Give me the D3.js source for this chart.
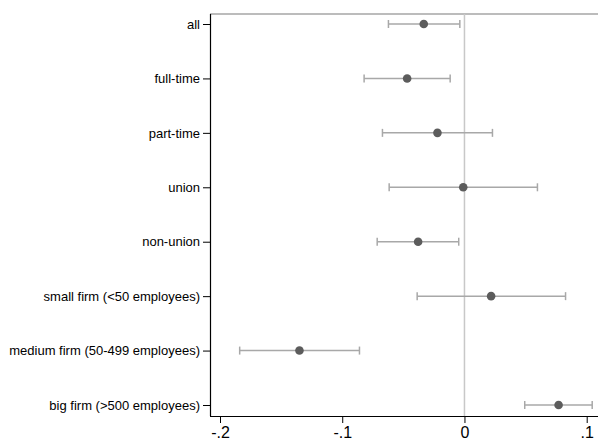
<!DOCTYPE html>
<html>
<head>
<meta charset="utf-8">
<script src="https://cdn.jsdelivr.net/npm/d3@7"></script>
<style>
  html, body { margin: 0; padding: 0; background: #fff; }
  svg { display: block; font-family: "Liberation Sans", Arial, sans-serif; }
</style>
</head>
<body>
<svg id="chart" width="598" height="443"></svg>
<script>
// Groups, point estimates and 95% confidence bounds
const groups = [
  "all",
  "full-time",
  "part-time",
  "union",
  "non-union",
  "small firm (<50 employees)",
  "medium firm (50-499 employees)",
  "big firm (>500 employees)"
];
const estimates = [-0.0333, -0.0469, -0.0221, -0.0010, -0.0379, 0.0218, -0.1350, 0.0770];
const lowerCI   = [-0.0622, -0.0821, -0.0671, -0.0616, -0.0714, -0.0387, -0.1839, 0.0493];
const upperCI   = [-0.0038, -0.0117, 0.0229, 0.0597, -0.0047, 0.0827, -0.0859, 0.1045];
const xTicks = [-0.2, -0.1, 0, 0.1];
const xTickLabels = ["-.2", "-.1", "0", ".1"];

(function () {
  const rows = groups.map((g, i) => ({ g, est: estimates[i], lo: lowerCI[i], hi: upperCI[i] }));

  const svg = d3.select("#chart");
  const plotLeft = 210, plotRight = 598, plotTop = 14, plotBottom = 416;

  const x = d3.scaleLinear().domain([-0.2, 0.1]).range([220, 586.7]);
  const y = d3.scalePoint().domain(groups).range([24, 405]);

  // frame: top border in gray
  svg.append("line")
    .attr("x1", plotLeft).attr("x2", plotRight)
    .attr("y1", plotTop).attr("y2", plotTop)
    .attr("stroke", "#7a7a7a").attr("stroke-width", 1.2);

  // reference line at zero
  svg.append("line")
    .attr("x1", x(0)).attr("x2", x(0))
    .attr("y1", plotTop).attr("y2", plotBottom)
    .attr("stroke", "#c8c8c8").attr("stroke-width", 1.5);

  // x axis
  const xAxis = svg.append("g")
    .attr("transform", `translate(0,${plotBottom})`)
    .call(d3.axisBottom(x).tickValues(xTicks)
      .tickFormat((d, i) => xTickLabels[i]).tickSize(7).tickPadding(4));
  xAxis.select(".domain").attr("d", `M${plotLeft},0.5H${plotRight}`).attr("stroke", "#000").attr("stroke-width", 1.2);
  xAxis.selectAll(".tick line").attr("stroke", "#000");
  xAxis.selectAll("text").attr("font-size", 16).attr("fill", "#000")
    .attr("font-family", "'Liberation Sans', Arial, sans-serif");

  // y axis
  const yAxis = svg.append("g")
    .attr("transform", `translate(${plotLeft},0)`)
    .call(d3.axisLeft(y).tickSize(7).tickPadding(3));
  yAxis.select(".domain").attr("d", `M0.5,${plotTop}V${plotBottom}`).attr("stroke", "#000").attr("stroke-width", 1.2);
  yAxis.selectAll(".tick line").attr("stroke", "#000");
  yAxis.selectAll("text").attr("font-size", 13).attr("fill", "#000")
    .attr("font-family", "'Liberation Sans', Arial, sans-serif");

  // confidence intervals with caps
  const ci = svg.append("g").attr("stroke", "#a8a8a8").attr("stroke-width", 1.5);
  ci.selectAll("line.bar").data(rows).join("line").attr("class", "bar")
    .attr("x1", d => x(d.lo)).attr("x2", d => x(d.hi))
    .attr("y1", d => y(d.g)).attr("y2", d => y(d.g));
  ci.selectAll("line.capl").data(rows).join("line").attr("class", "capl")
    .attr("x1", d => x(d.lo)).attr("x2", d => x(d.lo))
    .attr("y1", d => y(d.g) - 4).attr("y2", d => y(d.g) + 4);
  ci.selectAll("line.caph").data(rows).join("line").attr("class", "caph")
    .attr("x1", d => x(d.hi)).attr("x2", d => x(d.hi))
    .attr("y1", d => y(d.g) - 4).attr("y2", d => y(d.g) + 4);

  // point estimates
  svg.append("g").selectAll("circle").data(rows).join("circle")
    .attr("cx", d => x(d.est)).attr("cy", d => y(d.g)).attr("r", 4.3)
    .attr("fill", "#5c5c5c");
})();
</script>
</body>
</html>
